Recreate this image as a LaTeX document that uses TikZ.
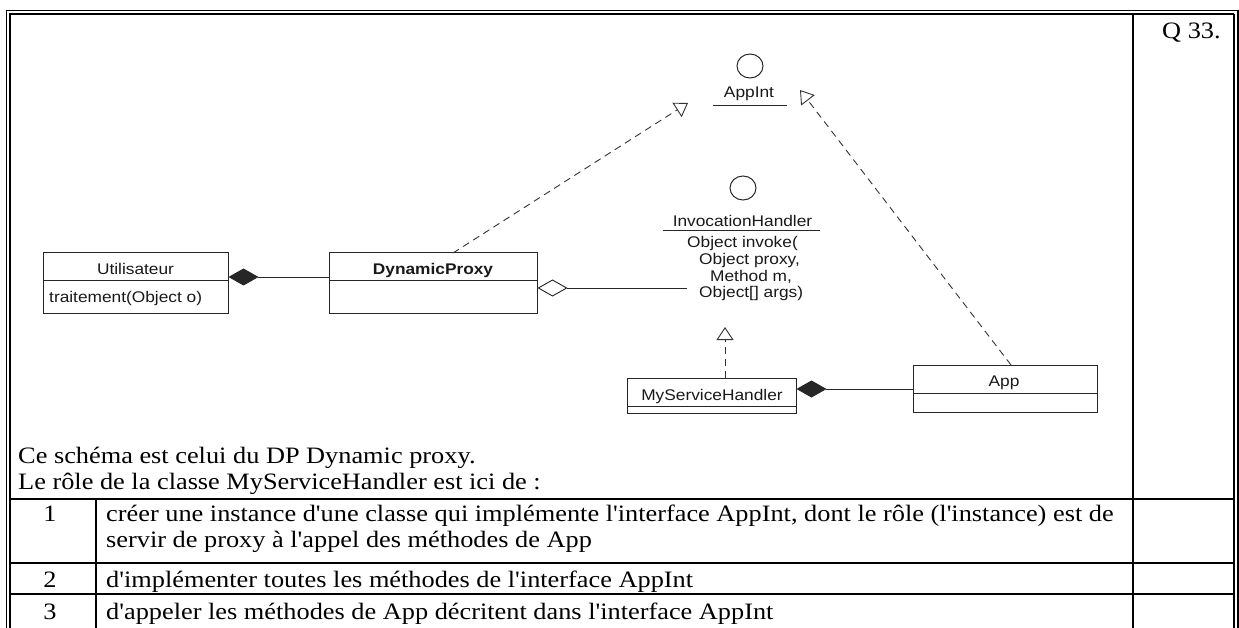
\documentclass[tikz,border=0pt]{standalone}
\usepackage{fontspec}
\setmainfont{Liberation Serif}[FakeStretch=1.12, Ligatures=TeXOff]
\newfontfamily\umlfont{Liberation Sans}[FakeStretch=1.12, Ligatures=TeXOff]
\usetikzlibrary{arrows.meta,calc}
\begin{document}
\begin{tikzpicture}[x=1pt,y=-1pt,
  thickrule/.style={line width=2pt, black},
  thinrule/.style={line width=1.3pt, black},
  umlbox/.style={draw=black!85, line width=1pt, inner sep=0pt},
  umlline/.style={draw=black!85, line width=1pt},
  umltext/.style={font=\umlfont\fontsize{15.45}{18}\selectfont, inner sep=0pt, text=black!90},
  bodytext/.style={font=\fontsize{23.5}{27}\selectfont, inner sep=0pt, anchor=base west},
  numtext/.style={font=\fontsize{23.5}{27}\selectfont, inner sep=0pt, anchor=base},
  realiz/.style={draw=black!80, line width=0.9pt, dash pattern=on 7pt off 5pt,
    -{Triangle[open,length=13pt,width=17pt,line width=0.9pt]}},
  compo/.style={draw=black!85, line width=0.9pt, {Diamond[length=30pt,width=17pt]}-},
  aggr/.style={draw=black!85, line width=0.9pt, {Diamond[open,length=30pt,width=17pt,line width=0.9pt]}-},
]
\useasboundingbox (0,0) rectangle (1239,628);

% ---- frame (double border) ----
\draw[thinrule] (6.7,628) -- (6.7,10.5) -- (1237.7,10.5);
\draw[thickrule] (1237.7,10.5) -- (1237.7,628);
\draw[thickrule] (10,628) -- (10,14) -- (1234,14);
\draw[thinrule] (1234,14) -- (1234,628);
% column and row rules
\draw[thickrule] (1133,14) -- (1133,628);
\draw[thickrule] (10,499) -- (1234,499);
\draw[thickrule] (10,563) -- (1234,563);
\draw[thickrule] (10,594) -- (1234,594);
\draw[line width=1.6pt] (96,499) -- (96,628);

\node[bodytext] (q) at (1162,38.5) {Q 33.};

% ---- UML classes ----
\node[umlbox, minimum width=185pt, minimum height=60pt] (util) at (135.5,283) {};
\draw[umlline] (util.west |- 0,281) -- (util.east |- 0,281);
\node[umltext, anchor=base] (utiln) at (135.5,275) {Utilisateur};
\node[umltext, anchor=base west] (utilop) at (49,302) {traitement(Object o)};

\node[umlbox, minimum width=208pt, minimum height=60pt] (dp) at (433,283) {};
\draw[umlline] (dp.west |- 0,281) -- (dp.east |- 0,281);
\node[umltext, anchor=base, font=\umlfont\bfseries\fontsize{15.45}{18}\selectfont] (dpn) at (433,275) {DynamicProxy};

\node[umlbox, minimum width=184pt, minimum height=47pt] (app) at (1005,388.5) {};
\draw[umlline] (app.west |- 0,393) -- (app.east |- 0,393);
\node[umltext, anchor=base] (appn) at (1004,386) {App};

\node[umlbox, minimum width=169pt, minimum height=35pt] (msh) at (711.5,395.5) {};
\draw[umlline] (msh.west |- 0,406) -- (msh.east |- 0,406);
\node[umltext, anchor=base] (mshn) at (712,400) {MyServiceHandler};

% ---- interfaces ----
\draw[umlline] (750,66) ellipse [x radius=13, y radius=12];
\node[umltext, anchor=base] (appint) at (749,98) {AppInt};
\draw[umlline] (713,106) -- (787,106);

\draw[umlline] (743,188) ellipse [x radius=13, y radius=12];
\node[umltext, anchor=base] (ih) at (742.5,227) {InvocationHandler};
\draw[umlline] (663,231) -- (820,231);
\node[umltext, anchor=base west] (ih1) at (687,248) {Object invoke(};
\node[umltext, anchor=base west] (ih2) at (699,264.5) {Object proxy,};
\node[umltext, anchor=base west] (ih3) at (710,281) {Method m,};
\node[umltext, anchor=base west] (ih4) at (699,298) {Object[] args)};

% ---- connector end points ----
\coordinate (dpTop) at (453,253);
\coordinate (appintL) at (688,103);
\coordinate (appTop) at (1011,365);
\coordinate (appintR) at (800,90);
\coordinate (mshTop) at (725,378);
\coordinate (ihBottom) at (725,327);
\coordinate (ihLeft) at (687,288);

% ---- connectors ----
\draw[realiz] (dpTop) -- (appintL);
\draw[realiz] (appTop) -- (appintR);
\draw[realiz] (mshTop) -- (ihBottom);
\draw[compo] (util.east |- 0,277) -- (dp.west |- 0,277);
\draw[aggr] (dp.east |- 0,288) -- (ihLeft);
\draw[compo] (msh.east |- 0,389) -- (app.west |- 0,389);

% ---- question text ----
\node[bodytext] (t1) at (18,463) {Ce schéma est celui du DP Dynamic proxy.};
\node[bodytext] (t2) at (18,489) {Le rôle de la classe MyServiceHandler est ici de :};
\node[numtext] (n1) at (50,521) {1};
\node[bodytext] (r1a) at (106,521) {créer une instance d'une classe qui implémente l'interface AppInt, dont le rôle (l'instance) est de};
\node[bodytext] (r1b) at (106,547) {servir de proxy à l'appel des méthodes de App};
\node[numtext] (n2) at (50,587) {2};
\node[bodytext] (r2) at (106,587) {d'implémenter toutes les méthodes de l'interface AppInt};
\node[numtext] (n3) at (50,619) {3};
\node[bodytext] (r3) at (106,619) {d'appeler les méthodes de App décritent dans l'interface AppInt};
\end{tikzpicture}
\end{document}
